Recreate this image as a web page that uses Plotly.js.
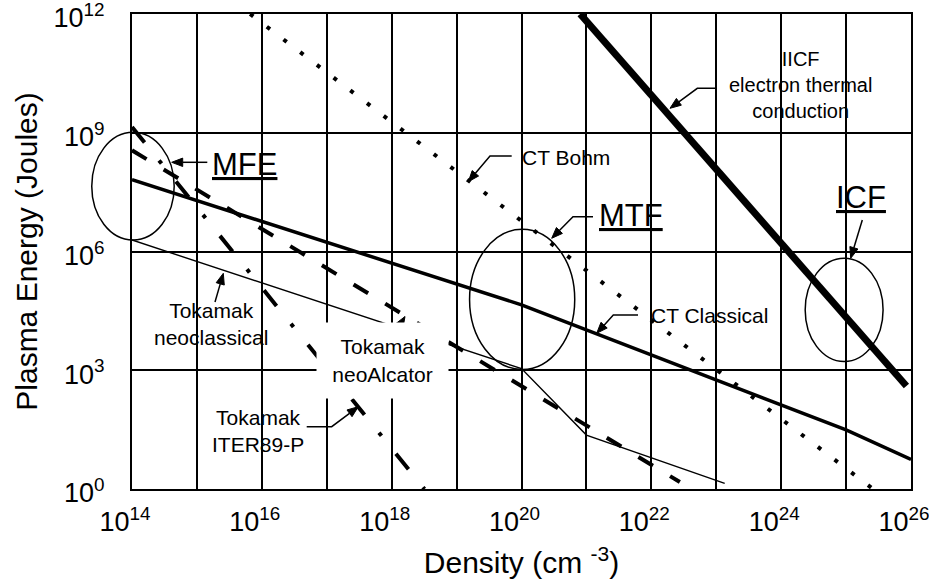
<!DOCTYPE html>
<html>
<head>
<meta charset="utf-8">
<script src="https://cdn.plot.ly/plotly-3.0.1.min.js"></script>
<style>
html,body{margin:0;padding:0;background:#fff;}
#chart{width:929px;height:585px;}
</style>
</head>
<body>
<div id="chart"></div>
<script>
// ---------------- data ----------------
// IICF electron thermal conduction (ICF)
const iicfX = [8e20, 8.5e25];
const iicfY = [1e12, 4e2];
// CT Bohm
const bohmX = [6.6e15, 2.6e25];
const bohmY = [1e12, 1];
// CT Classical
const classicalX = [1e14, 1e20, 1e25, 1e26];
const classicalY = [6.5e7, 4.5e4, 31, 5.6];
// Tokamak neoclassical
const neoclassicalX = [1e14, 1e20, 1e21, 1.35e23];
const neoclassicalY = [1.95e6, 1.1e3, 23, 1.38];
// Tokamak neoAlcator
const neoAlcatorX = [1e14, 2.75e22];
const neoAlcatorY = [3.6e8, 1.5];
// Tokamak ITER89-P
const iterX = [1e14, 3.2e18];
const iterY = [1.4e9, 1];

// ticks
const xTickVals = [1e14,1e15,1e16,1e17,1e18,1e19,1e20,1e21,1e22,1e23,1e24,1e25,1e26];
const xTickText = ['10<sup>14</sup>','','10<sup>16</sup>','','10<sup>18</sup>','','10<sup>20</sup>','','10<sup>22</sup>','','10<sup>24</sup>','','10<sup>26</sup>'];
const yTickVals = [1e0,1e3,1e6,1e9,1e12];
const yTickText = ['10<sup>0</sup>','10<sup>3</sup>','10<sup>6</sup>','10<sup>9</sup>','10<sup>12</sup>'];

// regime ellipses, in log10 units (density, energy)
const regionNames = ['MFE','MTF','ICF'];
const regionLogX = [[13.38,14.65],[19.2,20.82],[24.37,25.57]];
const regionLogY = [[6.29,9.01],[3.02,6.56],[3.22,5.83]];

// ---------------- layout helpers ----------------
const FONT = 'Liberation Sans, Arial, Helvetica, sans-serif';
const M = {l:132, r:18, t:14, b:96};
const W = 929 - M.l - M.r, H = 585 - M.t - M.b;
const X_RANGE = [14, 26], Y_RANGE = [0, 12];
const px = v => (v - M.l) / W;          // pixel -> paper x
const py = v => (M.t + H - v) / H;      // pixel -> paper y
const lx = v => (v - X_RANGE[0]) / (X_RANGE[1] - X_RANGE[0]);   // log -> paper x
const ly = v => (v - Y_RANGE[0]) / (Y_RANGE[1] - Y_RANGE[0]);   // log -> paper y

const traces = [
  {name:'IICF electron thermal conduction', x:iicfX, y:iicfY, mode:'lines',
   line:{color:'#000', width:7}},
  {name:'CT Bohm', x:bohmX, y:bohmY, mode:'lines',
   line:{color:'#000', width:4, dash:'4px,17px'}},
  {name:'CT Classical', x:classicalX, y:classicalY, mode:'lines',
   line:{color:'#000', width:3.5}},
  {name:'Tokamak neoclassical', x:neoclassicalX, y:neoclassicalY, mode:'lines',
   line:{color:'#000', width:1.4}},
  {name:'Tokamak neoAlcator', x:neoAlcatorX, y:neoAlcatorY, mode:'lines',
   line:{color:'#000', width:4, dash:'17px,20px'}},
  {name:'Tokamak ITER89-P', x:iterX, y:iterY, mode:'lines',
   line:{color:'#000', width:4, dash:'20px,23px,4px,23px'}}
];

const shapes = [];
// white patches that interrupt the grid behind labels (between grid and traces)
const gaps = [
  [190,285,135,196],   // MFE
  [705,905,40,131],    // IICF
  [505,625,135,181],   // CT Bohm
  [580,685,190,248],   // MTF
  [825,900,170,228],   // ICF
  [640,795,294,338],   // CT Classical
  [150,280,290,360],   // Tokamak neoclassical
  [205,318,397,465]    // Tokamak ITER89-P
];
gaps.forEach(g => shapes.push({type:'rect', xref:'paper', yref:'paper', layer:'between',
  x0:px(g[0]), x1:px(g[1]), y0:py(g[3]), y1:py(g[2]),
  fillcolor:'#fff', line:{width:0}}));
// ellipses
regionNames.forEach((n,i) => shapes.push({type:'circle', xref:'paper', yref:'paper',
  x0:lx(regionLogX[i][0]), x1:lx(regionLogX[i][1]),
  y0:ly(regionLogY[i][0]), y1:ly(regionLogY[i][1]),
  line:{color:'#000', width:1.5}, fillcolor:'rgba(0,0,0,0)'}));

// leader lines: polyline points (pixels), last point is the arrow tip
const leaders = [
  [[207.3,162.3],[171.7,162.3]],                    // MFE
  [[593,216.7],[573,216.7],[551.7,238.3]],          // MTF
  [[862.3,220],[850.7,258.3]],                      // ICF
  [[716.7,88.3],[697.3,88.3],[670,108.3]],          // IICF
  [[511.7,156],[490,156],[468.3,181.7]],            // CT Bohm
  [[638,315],[613.3,315],[596.7,333.3]],            // CT Classical
  [[215,302],[223.3,273.3]],                        // Tokamak neoclassical
  [[395,333],[405,316.5]],                          // Tokamak neoAlcator
  [[306.7,426.7],[331.7,426.7],[358.3,406.7]]       // Tokamak ITER89-P
];
const HEAD_L = 11, HEAD_W = 4.2;
leaders.forEach(pts => {
  const n = pts.length;
  const [hx, hy] = pts[n-1], [tx, ty] = pts[n-2];
  const d = Math.hypot(hx - tx, hy - ty);
  const ux = (hx - tx) / d, uy = (hy - ty) / d;
  const bx = hx - ux * HEAD_L, by = hy - uy * HEAD_L;
  let path = 'M' + px(pts[0][0]) + ',' + py(pts[0][1]);
  for (let i = 1; i < n - 1; i++) path += ' L' + px(pts[i][0]) + ',' + py(pts[i][1]);
  path += ' L' + px(bx) + ',' + py(by);
  shapes.push({type:'path', xref:'paper', yref:'paper', path:path, line:{color:'#000', width:1.5}});
  const lx1 = bx - uy * HEAD_W, ly1 = by + ux * HEAD_W;
  const lx2 = bx + uy * HEAD_W, ly2 = by - ux * HEAD_W;
  shapes.push({type:'path', xref:'paper', yref:'paper',
    path:'M' + px(hx) + ',' + py(hy) + ' L' + px(lx1) + ',' + py(ly1) + ' L' + px(lx2) + ',' + py(ly2) + ' Z',
    fillcolor:'#000', line:{color:'#000', width:1}});
});

function label(text, cx, cy, size, extra){
  return Object.assign({xref:'paper', yref:'paper', x:px(cx), y:py(cy), text:text, showarrow:false,
    xanchor:'center', yanchor:'middle', font:{family:FONT, size:size, color:'#000'}}, extra||{});
}

const annotations = [
  label('<u>MFE</u>', 244, 165, 31),
  label('<u>MTF</u>', 631, 216, 31),
  label('<u>ICF</u>', 861, 197.6, 31),
  label('IICF<br>electron thermal<br>conduction', 800, 85, 20),
  label('CT Bohm', 566, 157.7, 21),
  label('CT Classical', 709.5, 316, 21),
  label('Tokamak<br>neoclassical', 211, 324.3, 21),
  label('Tokamak<br>neoAlcator', 382.5, 360.5, 21, {bgcolor:'#fff', width:131, height:75, borderpad:0}),
  label('Tokamak<br>ITER89-P', 258, 430.5, 21)
];

const axisCommon = {
  type:'log', showgrid:true, gridcolor:'#000', gridwidth:2,
  showline:true, mirror:true, linecolor:'#000', linewidth:2,
  zeroline:false, ticks:'', tickmode:'array', ticklabeloverflow:'allow',
  tickfont:{family:FONT, size:27, color:'#000'}
};

const layout = {
  width:929, height:585, margin:M,
  paper_bgcolor:'#fff', plot_bgcolor:'#fff', showlegend:false,
  font:{family:FONT, color:'#000'},
  xaxis:Object.assign({}, axisCommon, {range:X_RANGE, tickvals:xTickVals, ticktext:xTickText,
    ticklabelshift:-7, ticklabelstandoff:8,
    title:{text:'Density (cm <sup>-3</sup>)', font:{family:FONT, size:30, color:'#000'}, standoff:16}}),
  yaxis:Object.assign({}, axisCommon, {range:Y_RANGE, tickvals:yTickVals, ticktext:yTickText,
    ticklabelstandoff:20, ticklabelshift:4,
    title:{text:'Plasma Energy (Joules)', font:{family:FONT, size:30, color:'#000'}, standoff:7}}),
  shapes:shapes, annotations:annotations
};

Plotly.newPlot('chart', traces, layout, {staticPlot:true, displayModeBar:false});
</script>
</body>
</html>
